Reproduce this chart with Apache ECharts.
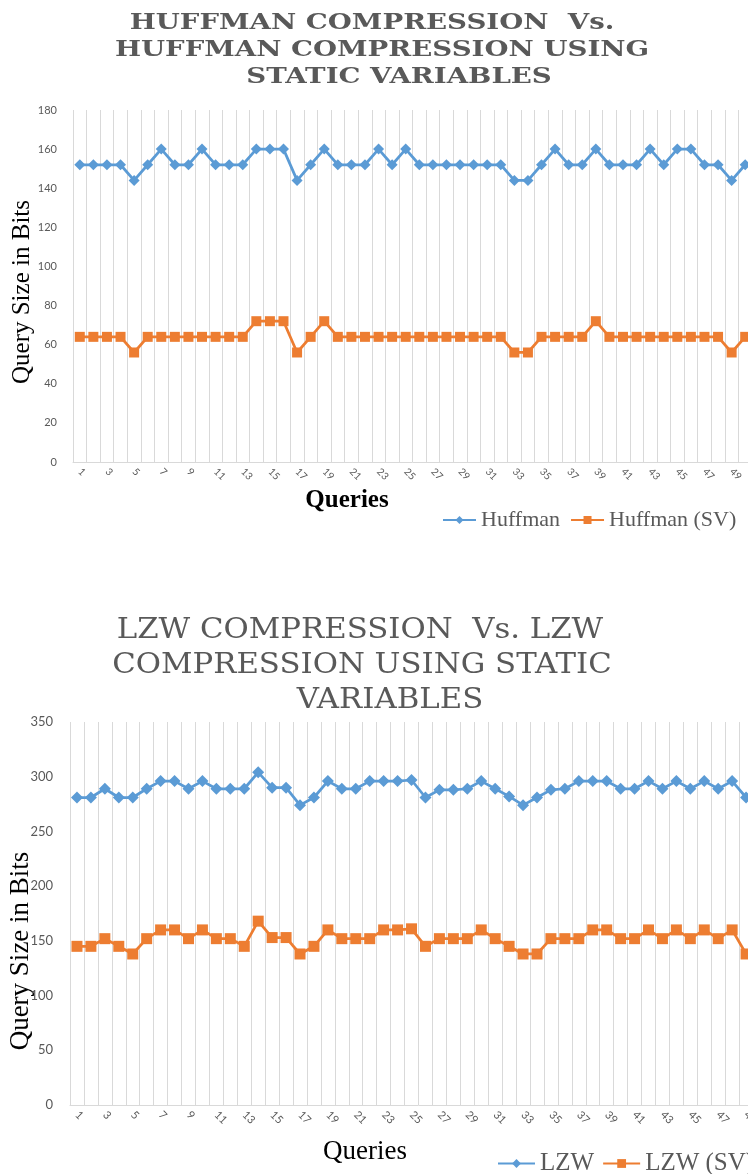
<!DOCTYPE html>
<html>
<head>
<meta charset="utf-8">
<script src="https://cdn.jsdelivr.net/npm/echarts@6/dist/echarts.min.js"></script>
<style>
html,body{margin:0;padding:0;background:#fff;overflow:hidden;width:748px;height:1174px;}
#c{position:absolute;left:0;top:0;width:800px;height:1174px;}
</style>
</head>
<body>
<div id="c"></div>
<script>
// ---- data ----
const queries = Array.from({length: 50}, (_, i) => String(i + 1));
const huffman = [152,152,152,152,144,152,160,152,152,160,
                 152,152,152,160,160,160,144,152,160,152,
                 152,152,160,152,160,152,152,152,152,152,
                 152,152,144,144,152,160,152,152,160,152,
                 152,152,160,152,160,160,152,152,144,152];
const huffmanSV = [64,64,64,64,56,64,64,64,64,64,
                   64,64,64,72,72,72,56,64,72,64,
                   64,64,64,64,64,64,64,64,64,64,
                   64,64,56,56,64,64,64,64,72,64,
                   64,64,64,64,64,64,64,64,56,64];
const lzw = [281,281,289,281,281,289,296,296,289,296,
             289,289,289,304,290,290,274,281,296,289,
             289,296,296,296,297,281,288,288,289,296,
             289,282,274,281,288,289,296,296,296,289,
             289,296,289,296,289,296,289,296,281];
const lzwSV = [145,145,152,145,138,152,160,160,152,160,
               152,152,145,168,153,153,138,145,160,152,
               152,152,160,160,161,145,152,152,152,160,
               152,145,138,138,152,152,152,160,160,152,
               152,160,152,160,152,160,152,160,138];
const title1 = ['HUFFMAN COMPRESSION  Vs.', 'HUFFMAN COMPRESSION USING', 'STATIC VARIABLES'];
const title2 = ['LZW COMPRESSION  Vs. LZW', 'COMPRESSION USING STATIC', 'VARIABLES'];
const yName = 'Query Size in Bits';
const xName = 'Queries';

// ---- styles ----
const BLUE = '#5b9bd5', ORANGE = '#ed7d31', GRAY = '#595959';
const serif = 'Liberation Serif';
const chart = echarts.init(document.getElementById('c'), null, {renderer: 'canvas'});

function titleLines(lines, xs, ys, size, weight, sx) {
  return lines.map((t, i) => ({
    type: 'text', x: xs[i], y: ys[i], scaleX: sx, silent: true,
    style: {text: t, fontFamily: 'DejaVu Serif', fontSize: size, fontWeight: weight,
            fill: GRAY, align: 'center', verticalAlign: 'top'}
  }));
}

function xAxis(gi, fs) {
  return {
    type: 'category', gridIndex: gi, data: queries, boundaryGap: true,
    axisLine: {lineStyle: {color: '#d9d9d9', width: 1}},
    axisTick: {show: false},
    axisLabel: {interval: 1, rotate: -45, color: GRAY, fontFamily: 'Lato', fontSize: fs, margin: 8},
    splitLine: {show: true, interval: 0, lineStyle: {color: '#d9d9d9', width: 1}}
  };
}
function yAxis(gi, max, step, fs, margin) {
  return {
    type: 'value', gridIndex: gi, min: 0, max: max, interval: step,
    axisLine: {show: false}, axisTick: {show: false},
    axisLabel: {color: GRAY, fontFamily: 'Lato', fontSize: fs, margin: margin},
    splitLine: {show: false}
  };
}
function series(name, data, gi, sym, size, color) {
  return {
    name: name, type: 'line', xAxisIndex: gi, yAxisIndex: gi, data: data,
    symbol: sym, symbolSize: size, showSymbol: true, showAllSymbol: true,
    itemStyle: {color: color}, lineStyle: {color: color, width: 2.75},
    emphasis: {disabled: true}, animation: false
  };
}

chart.setOption({
  animation: false,
  grid: [
    {left: 73, top: 110, width: 679, height: 352},
    {left: 70, top: 722, width: 697, height: 383}
  ],
  xAxis: [xAxis(0, 10), xAxis(1, 11)],
  yAxis: [yAxis(0, 180, 20, 11, 16), yAxis(1, 350, 50, 13, 17)],
  legend: [
    {data: ['Huffman', 'Huffman (SV)'], left: 437, top: 504, itemWidth: 33, itemHeight: 10, itemGap: 10,
     textStyle: {fontFamily: serif, fontSize: 22, color: GRAY}},
    {data: ['LZW', 'LZW (SV)'], left: 492, top: 1146, itemWidth: 37, itemHeight: 11, itemGap: 8,
     textStyle: {fontFamily: serif, fontSize: 25, color: GRAY}}
  ],
  graphic: [
    ...titleLines(title1, [372, 382, 399], [12, 39, 66], 23, 'bold', 1.2),
    ...titleLines(title2, [360, 362, 390], [617, 652, 687], 27, 'normal', 1.14),
    {type: 'text', x: 22, y: 292, rotation: Math.PI / 2,
     style: {text: yName, fontFamily: serif, fontSize: 25, fill: '#000', align: 'center', verticalAlign: 'middle'}},
    {type: 'text', x: 21, y: 951, rotation: Math.PI / 2,
     style: {text: yName, fontFamily: serif, fontSize: 27, fill: '#000', align: 'center', verticalAlign: 'middle'}},
    {type: 'text', x: 347, y: 501,
     style: {text: xName, fontFamily: serif, fontSize: 25, fontWeight: 'bold', fill: '#000', align: 'center', verticalAlign: 'middle'}},
    {type: 'text', x: 365, y: 1152,
     style: {text: xName, fontFamily: serif, fontSize: 27, fill: '#000', align: 'center', verticalAlign: 'middle'}}
  ],
  series: [
    series('Huffman', huffman, 0, 'diamond', 11, BLUE),
    series('Huffman (SV)', huffmanSV, 0, 'rect', 10, ORANGE),
    series('LZW', lzw, 1, 'diamond', 12, BLUE),
    series('LZW (SV)', lzwSV, 1, 'rect', 11, ORANGE)
  ]
});
</script>
</body>
</html>
